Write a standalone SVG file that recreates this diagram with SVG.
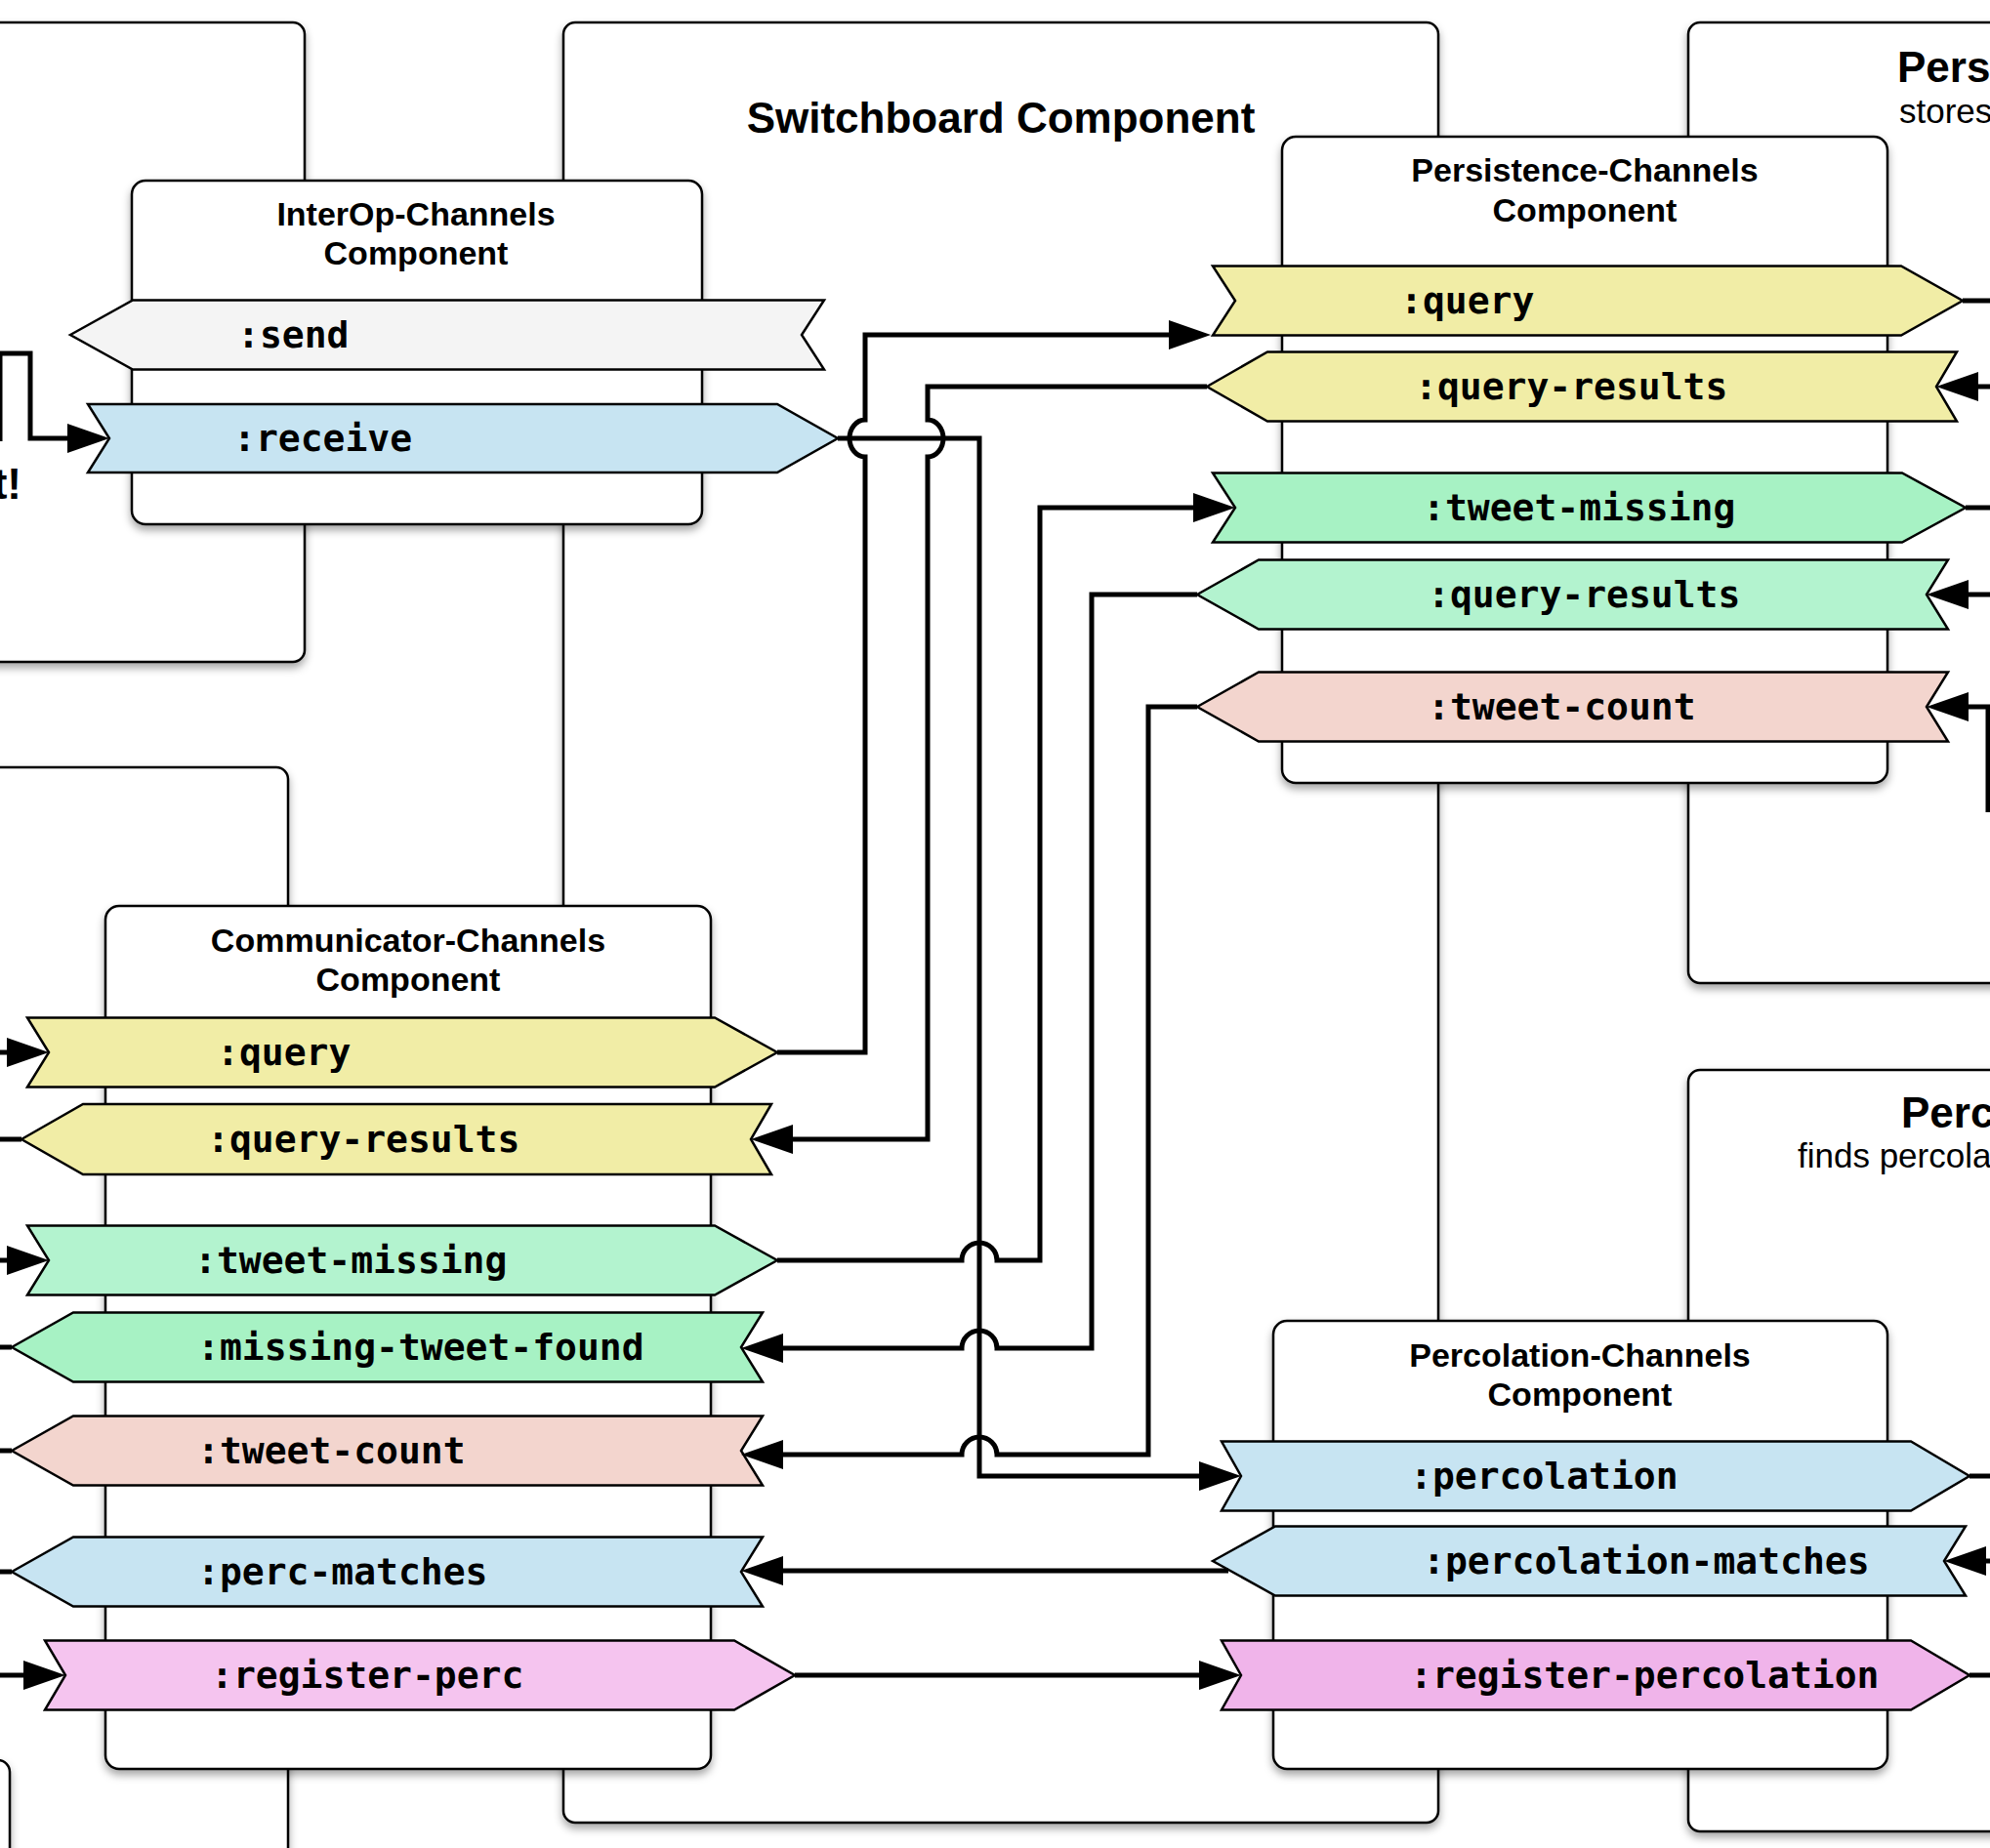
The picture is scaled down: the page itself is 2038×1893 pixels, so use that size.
<svg xmlns="http://www.w3.org/2000/svg" width="2038" height="1893" viewBox="0 0 2038 1893">
<defs>
<filter id="sh" x="-10%" y="-10%" width="120%" height="125%">
<feDropShadow dx="0" dy="5" stdDeviation="4" flood-color="#000" flood-opacity="0.35"/>
</filter>
<marker id="ah" markerUnits="userSpaceOnUse" markerWidth="44" markerHeight="31" refX="3" refY="15" orient="auto" overflow="visible">
<path d="M0,0 L43,15 L0,30 z" fill="#000"/>
</marker>
<style>
.box{fill:#fff;stroke:#000;stroke-width:2.5;filter:url(#sh)}
.ch{stroke:#000;stroke-width:2.5;stroke-linejoin:miter}
.grey{fill:#f4f4f4}.yel{fill:#f1eda6}.gd{fill:#a7f2c4}.gl{fill:#b3f3cf}.pink{fill:#f3d5ce}.blue{fill:#c7e4f2}.mag1{fill:#f5c4ef}.mag2{fill:#f0b4ea}
.lbl{font-family:"DejaVu Sans Mono",monospace;font-weight:bold;font-size:38px;fill:#000}
.ttl{font-family:"Liberation Sans",Arial,sans-serif;font-weight:bold;font-size:34px;text-anchor:middle;fill:#000}
.big{font-family:"Liberation Sans",Arial,sans-serif;font-weight:bold;font-size:44px;fill:#000}
.sub{font-family:"Liberation Sans",Arial,sans-serif;font-size:35px;fill:#000}
.con{fill:none;stroke:#000;stroke-width:5;stroke-linejoin:miter;stroke-linecap:butt}
.arr{marker-end:url(#ah)}
</style>
</defs>
<rect width="2038" height="1893" fill="#fff"/>

<g id="outer-top-left">
<rect class="box" x="-300" y="23" width="612" height="655" rx="12"/>
<text class="big" x="22" y="511" text-anchor="end" font-size="37">t!</text>
</g>
<g id="outer-left-middle">
<rect class="box" x="-300" y="786" width="595" height="1300" rx="12"/>
</g>
<g id="outer-bottom-left">
<rect class="box" x="-300" y="1803" width="310" height="300" rx="12"/>
</g>
<g id="switchboard">
<rect class="box" x="577" y="23" width="896" height="1844" rx="12"/>
<text class="big" x="1025" y="136" text-anchor="middle" font-size="45.5">Switchboard Component</text>
</g>
<g id="persistence">
<rect class="box" x="1729" y="23" width="500" height="984" rx="12"/>
<text class="big" x="1943" y="84">Pers</text>
<text class="sub" x="1945" y="126">stores</text>
</g>
<g id="percolation">
<rect class="box" x="1729" y="1096" width="500" height="780" rx="12"/>
<text class="big" x="1947" y="1155">Perc</text>
<text class="sub" x="1841" y="1196">finds percola</text>
</g>

<g id="interop-channels">
<rect class="box" x="135" y="185" width="584" height="352" rx="14"/>
<text class="ttl" x="426" y="231">InterOp-Channels</text>
<text class="ttl" x="426" y="271">Component</text>
<polygon class="ch grey" points="72,343 136,307.5 844,307.5 821,343 844,378.5 136,378.5"/>
<text class="lbl" x="243" y="356">:send</text>
<polygon class="ch blue" points="90,414 796,414 858,449 796,484 90,484 112,449"/>
<text class="lbl" x="239" y="462">:receive</text>
</g>

<g id="communicator-channels">
<rect class="box" x="108" y="928" width="620" height="884" rx="14"/>
<text class="ttl" x="418" y="975">Communicator-Channels</text>
<text class="ttl" x="418" y="1015">Component</text>
<polygon class="ch yel" points="28,1042.5 732,1042.5 796,1078 732,1113.5 28,1113.5 50,1078"/>
<text class="lbl" x="222" y="1091">:query</text>
<polygon class="ch yel" points="22,1167 85,1131 790,1131 769,1167 790,1203 85,1203"/>
<text class="lbl" x="212" y="1180">:query-results</text>
<polygon class="ch gl" points="28,1255.5 732,1255.5 796,1291 732,1326.5 28,1326.5 50,1291"/>
<text class="lbl" x="199" y="1304">:tweet-missing</text>
<polygon class="ch gd" points="12,1380 75,1344.5 781,1344.5 759,1380 781,1415.5 75,1415.5"/>
<text class="lbl" x="202" y="1393">:missing-tweet-found</text>
<polygon class="ch pink" points="12,1486 75,1450.5 781,1450.5 759,1486 781,1521.5 75,1521.5"/>
<text class="lbl" x="202" y="1499">:tweet-count</text>
<polygon class="ch blue" points="12,1610 75,1574.5 781,1574.5 759,1610 781,1645.5 75,1645.5"/>
<text class="lbl" x="202" y="1623">:perc-matches</text>
<polygon class="ch mag1" points="46,1680.5 752,1680.5 814,1716 752,1751.5 46,1751.5 67,1716"/>
<text class="lbl" x="216" y="1729">:register-perc</text>
</g>

<g id="persistence-channels">
<rect class="box" x="1313" y="140" width="620" height="662" rx="14"/>
<text class="ttl" x="1623" y="186">Persistence-Channels</text>
<text class="ttl" x="1623" y="227">Component</text>
<polygon class="ch yel" points="1242,272.5 1947,272.5 2010,308 1947,343.5 1242,343.5 1265,308"/>
<text class="lbl" x="1434" y="321">:query</text>
<polygon class="ch yel" points="1236,396 1298,360.5 2004,360.5 1983,396 2004,431.5 1298,431.5"/>
<text class="lbl" x="1449" y="409">:query-results</text>
<polygon class="ch gd" points="1242,484.5 1948,484.5 2013,520 1948,555.5 1242,555.5 1265,520"/>
<text class="lbl" x="1457" y="533">:tweet-missing</text>
<polygon class="ch gl" points="1226,609 1289,573.5 1995,573.5 1973,609 1995,644.5 1289,644.5"/>
<text class="lbl" x="1462" y="622">:query-results</text>
<polygon class="ch pink" points="1226,724 1289,688.5 1995,688.5 1973,724 1995,759.5 1289,759.5"/>
<text class="lbl" x="1462" y="737">:tweet-count</text>
</g>

<g id="percolation-channels">
<rect class="box" x="1304" y="1353" width="629" height="459" rx="14"/>
<text class="ttl" x="1618" y="1400">Percolation-Channels</text>
<text class="ttl" x="1618" y="1440">Component</text>
<polygon class="ch blue" points="1251,1476.5 1957,1476.5 2017,1512 1957,1547.5 1251,1547.5 1271,1512"/>
<text class="lbl" x="1444" y="1525">:percolation</text>
<polygon class="ch blue" points="1242,1599 1306,1563.5 2013,1563.5 1991,1599 2013,1634.5 1306,1634.5"/>
<text class="lbl" x="1457" y="1612">:percolation-matches</text>
<polygon class="ch mag2" points="1251,1680.5 1957,1680.5 2017,1716 1957,1751.5 1251,1751.5 1271,1716"/>
<text class="lbl" x="1444" y="1729">:register-percolation</text>
</g>

<g id="connectors">
<path class="con arr" d="M0,452 V362 H31 V449 H72"/>
<path class="con arr" d="M796,1078 H886 V468 A16,19 0 0 1 886,430 V343 H1200"/>
<path class="con arr" d="M1236,396 H950 V430 A16,19 0 0 1 950,468 V1167 H809"/>
<path class="con arr" d="M858,449 H1003 V1512 H1231"/>
<path class="con arr" d="M796,1291 H985 A18,18 0 0 1 1021,1291 H1065 V520 H1225"/>
<path class="con arr" d="M1226,609 H1118 V1381 H1021 A18,18 0 0 0 985,1381 H799"/>
<path class="con arr" d="M1226,724 H1176 V1490 H1021 A18,18 0 0 0 985,1490 H799"/>
<path class="con arr" d="M814,1716 H1231"/>
<path class="con arr" d="M1258,1609 H799"/>
<path class="con" d="M2010,308 H2045"/>
<path class="con arr" d="M2045,396 H2023"/>
<path class="con" d="M2013,520 H2045"/>
<path class="con arr" d="M2045,609 H2013"/>
<path class="con arr" d="M2036,832 V724 H2013"/>
<path class="con" d="M2017,1512 H2045"/>
<path class="con arr" d="M2045,1599 H2031"/>
<path class="con" d="M2017,1716 H2045"/>
<path class="con arr" d="M-5,1078 H10"/>
<path class="con" d="M22,1167 H-5"/>
<path class="con arr" d="M-5,1291 H10"/>
<path class="con" d="M12,1380 H-5"/>
<path class="con" d="M12,1486 H-5"/>
<path class="con" d="M12,1610 H-5"/>
<path class="con arr" d="M-5,1716 H27"/>
</g>
</svg>
